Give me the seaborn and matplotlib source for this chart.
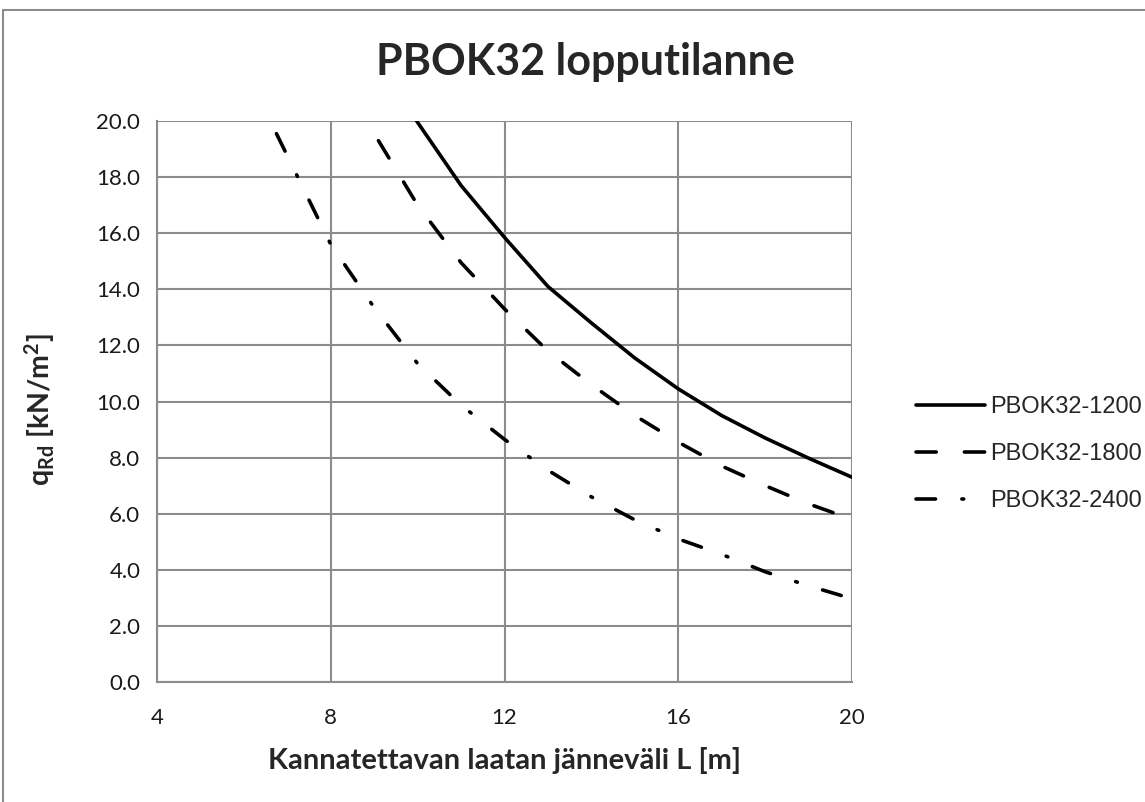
import matplotlib
matplotlib.use("Agg")
import matplotlib.pyplot as plt
import seaborn as sns
import pandas as pd
from matplotlib.patches import Rectangle

# ---- data ----
series_names = ["PBOK32-1200", "PBOK32-1800", "PBOK32-2400"]

span_1200 = [9, 10, 11, 12, 13, 14, 15, 16, 17, 18, 19, 20]
q_1200 = [22.4, 19.95, 17.7, 15.85, 14.1, 12.8, 11.55, 10.45, 9.5, 8.7, 7.98, 7.3]

span_1800 = [8, 9, 10, 11, 12, 13, 14, 15, 16, 17, 18, 19, 20]
q_1800 = [22.3, 19.55, 17.0, 14.95, 13.3, 11.8, 10.6, 9.5, 8.55, 7.7, 7.0, 6.35, 5.8]

span_2400 = [6.75, 8, 9, 10, 11, 12, 13, 14, 15, 16, 17, 18, 19, 20]
q_2400 = [19.55, 15.6, 13.35, 11.35, 9.87, 8.65, 7.55, 6.6, 5.78, 5.1, 4.55, 3.93, 3.43, 2.97]

x_ticks = [4, 8, 12, 16, 20]
y_ticks = [0, 2, 4, 6, 8, 10, 12, 14, 16, 18, 20]

title = "PBOK32 lopputilanne"
x_label = "Kannatettavan laatan jänneväli L [m]"
y_label = r"q$_{\mathregular{Rd}}$ [kN/m$^{\mathregular{2}}$]"

df = pd.concat([
    pd.DataFrame({"L": span_1200, "q": q_1200, "series": series_names[0]}),
    pd.DataFrame({"L": span_1800, "q": q_1800, "series": series_names[1]}),
    pd.DataFrame({"L": span_2400, "q": q_2400, "series": series_names[2]}),
], ignore_index=True)

# ---- style ----
sns.set_style("white")
plt.rcParams["font.family"] = ["Lato", "DejaVu Sans"]
plt.rcParams["mathtext.default"] = "regular"
plt.rcParams["lines.dash_capstyle"] = "round"

fig = plt.figure(figsize=(11.45, 8.02), dpi=100)
ax = fig.add_axes([157 / 1145, 1 - 682 / 802, (852 - 157) / 1145, (682 - 121) / 802])

dashes = {
    series_names[0]: "",
    series_names[1]: (5.6, 7.8),
    series_names[2]: (5.4, 7.3, 0.5, 7.3),
}
sns.lineplot(data=df, x="L", y="q", style="series", style_order=series_names,
             dashes=dashes, color="black", linewidth=2.6, sort=False,
             estimator=None, legend=False, ax=ax)
for ln in ax.get_lines():
    ln.set_dash_capstyle("round")

ax.set_xlim(4, 20)
ax.set_ylim(0, 20)
ax.set_xticks(x_ticks)
ax.set_xticklabels([str(v) for v in x_ticks])
ax.set_yticks(y_ticks)
ax.set_yticklabels([f"{v:.1f}" for v in y_ticks])

grid_col = "#8c8c8c"
ax.grid(True, color=grid_col, linewidth=1.5)
ax.set_axisbelow(True)
for side in ["top", "right"]:
    ax.spines[side].set_visible(False)
for side in ["left", "bottom"]:
    ax.spines[side].set_color(grid_col)
    ax.spines[side].set_linewidth(1.5)

ax.tick_params(axis="both", which="major", direction="out", length=5, width=1.2,
               color=grid_col, labelsize=16, labelcolor="#1a1a1a")
ax.tick_params(axis="y", pad=7)
ax.tick_params(axis="x", pad=14)

ax.set_xlabel(x_label, fontsize=21, fontweight="bold")
ax.set_ylabel(y_label, fontsize=20.5, fontweight="bold")
ax.xaxis.set_label_coords((505 - 157) / 695, (682 - 760) / 561)
ax.yaxis.set_label_coords((40 - 157) / 695, (682 - 410) / 561)
ax.xaxis.label.set_va("center")
ax.yaxis.label.set_va("center")

fig.text(585 / 1145, 1 - 62 / 802, title, ha="center", va="center",
         fontsize=31, fontweight="bold")

handles = ax.get_lines()[:3]
leg = fig.legend(handles, series_names, loc="center left",
                 bbox_to_anchor=(895 / 1145, 1 - 454 / 802),
                 frameon=False, handlelength=2.9, handletextpad=0.25,
                 labelspacing=1.05, prop={"family": "Liberation Sans", "size": 17})

# outer chart border
fig.patches.append(Rectangle((3 / 1145, -0.1), 1.2, 1 - 10 / 802 + 0.1,
                             transform=fig.transFigure, fill=False,
                             edgecolor="#8c8c8c", linewidth=1.5))

fig.savefig("out.png", dpi=100)
